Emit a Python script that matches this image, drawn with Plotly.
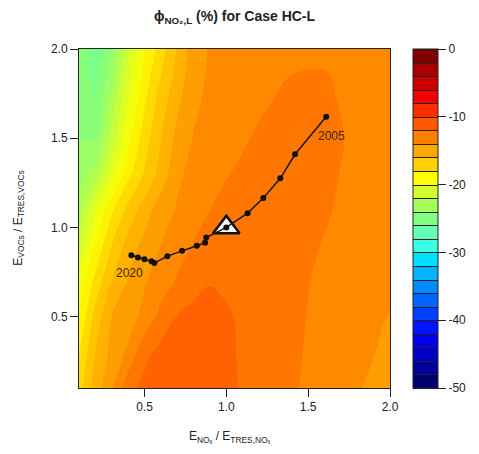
import plotly.graph_objects as go

# ---------------- data ----------------
# grid of E_NOx/E_TRES,NOx (x) and E_VOCs/E_TRES,VOCs (y)
x_grid = [0.1, 0.2, 0.3, 0.4, 0.5, 0.6, 0.7, 0.8, 0.9, 1.0, 1.2, 1.4, 1.6, 1.8, 2.0]
y_grid = [0.1, 0.3, 0.5, 0.7, 0.9, 1.1, 1.3, 1.5, 1.7, 1.85, 2.0]

# phi_NO2,L (%) values, one row per y value
phi_y010 = [-17.5, -15.5, -14.1, -12.35, -11.7, -11.5, -11.4, -11.35, -11.4, -11.8, -12.35, -12.9, -13.38, -13.86, -14.8]
phi_y030 = [-18.0, -16.0, -14.7, -13.8, -12.3, -11.7, -11.5, -11.45, -11.5, -11.85, -12.35, -12.85, -13.3, -13.75, -14.2]
phi_y050 = [-19.0, -16.6, -15.0, -14.4, -13.7, -12.7, -11.95, -11.75, -11.7, -11.9, -12.35, -12.8, -13.25, -13.65, -14.05]
phi_y070 = [-19.6, -17.7, -16.0, -14.9, -14.1, -13.5, -12.9, -12.3, -12.05, -12.15, -12.45, -12.8, -13.15, -13.45, -13.65]
phi_y090 = [-21.3, -18.9, -17.0, -15.6, -14.7, -14.0, -13.4, -12.95, -12.6, -12.45, -12.45, -12.7, -13.05, -13.35, -13.55]
phi_y110 = [-22.5, -20.2, -18.2, -16.7, -15.5, -14.5, -13.9, -13.4, -13.0, -12.75, -12.55, -12.6, -12.9, -13.3, -13.5]
phi_y130 = [-23.5, -22.6, -20.2, -18.3, -16.9, -15.6, -14.2, -13.7, -13.4, -13.05, -12.7, -12.55, -12.8, -13.25, -13.5]
phi_y150 = [-24.0, -24.2, -21.6, -19.3, -17.5, -16.0, -14.7, -13.95, -13.6, -13.4, -12.85, -12.55, -12.7, -13.2, -13.5]
phi_y170 = [-24.2, -24.9, -22.6, -20.0, -18.1, -16.5, -15.2, -14.2, -13.75, -13.6, -13.15, -12.75, -12.8, -13.3, -13.55]
phi_y185 = [-24.4, -25.3, -23.4, -20.6, -18.6, -17.0, -15.6, -14.4, -13.85, -13.75, -13.4, -12.98, -12.92, -13.4, -13.6]
phi_y200 = [-24.5, -25.5, -24.0, -21.2, -19.0, -17.5, -15.9, -14.5, -13.9, -13.8, -13.6, -13.4, -13.3, -13.5, -13.65]

# emission trajectory 2005 -> 2020
years = list(range(2005, 2021))
traj_x = [1.61, 1.42, 1.33, 1.226, 1.13, 1.0, 0.877, 0.87, 0.82, 0.73, 0.64, 0.56, 0.543, 0.50, 0.46, 0.42]
traj_y = [1.62, 1.41, 1.275, 1.165, 1.08, 1.0, 0.943, 0.914, 0.897, 0.869, 0.839, 0.80, 0.81, 0.822, 0.831, 0.844]

# reference point (TRES case)
ref_x = [1.0]
ref_y = [1.0]

# colour key: 25 bands of 2 % from -50 to 0 (bottom to top)
band_colors = [
    "#000070", "#00009A", "#0000C4", "#0000EA", "#0014FF",
    "#0040FF", "#0064FF", "#008CFF", "#00B4FF", "#00E0FF",
    "#3CFFE6", "#64FFB4", "#80FF80", "#A4FF5C", "#D4FF2C",
    "#FFFF00", "#FFD000", "#FFA800", "#FF8000", "#FF5800",
    "#FF2C00", "#F20000", "#CC0000", "#A60000", "#800000",
]
cbar_ticks = [0, -10, -20, -30, -40, -50]
z_min, z_max = -50, 0

# ---------------- figure ----------------
z = [phi_y010, phi_y030, phi_y050, phi_y070, phi_y090, phi_y110,
     phi_y130, phi_y150, phi_y170, phi_y185, phi_y200]

n = len(band_colors)
cscale = [[0.0, band_colors[0]]]
for k, c in enumerate(band_colors):
    cscale.append([(2 * k + 1) / (2 * n), c])
cscale.append([1.0, band_colors[-1]])

font_family = "Liberation Sans, Arial, sans-serif"
txt = "#222222"

fig = go.Figure()

# key trace (2 % bands, outlined) – provides the colour bar
fig.add_trace(go.Contour(
    x=x_grid, y=y_grid, z=z,
    colorscale=cscale, zmin=z_min, zmax=z_max, zauto=False,
    contours=dict(start=z_min, end=z_max, size=2, coloring="fill", showlines=True),
    line=dict(color="#222222", width=1, smoothing=1),
    hoverinfo="skip",
    colorbar=dict(
        x=(419 - 79) / 317, xanchor="left", xpad=0,
        y=0.5, yanchor="middle", ypad=0, len=1, lenmode="fraction",
        thickness=25, outlinewidth=1, outlinecolor="#222222",
        ticks="outside", ticklen=8, tickwidth=1, tickcolor="#222222",
        tickvals=cbar_ticks, ticktext=[str(v) for v in cbar_ticks],
        tickfont=dict(family=font_family, size=12, color=txt),
    ),
))

# fine filled contours shown in the plot
fig.add_trace(go.Contour(
    x=x_grid, y=y_grid, z=z,
    colorscale=cscale, zmin=z_min, zmax=z_max, zauto=False,
    contours=dict(start=z_min, end=z_max, size=1, coloring="fill", showlines=False),
    line=dict(width=0, smoothing=1.0),
    showscale=False, hoverinfo="skip",
))

# reference triangle
fig.add_trace(go.Scatter(
    x=ref_x, y=ref_y, mode="markers",
    marker=dict(symbol="triangle-up", size=23, color="white",
                line=dict(color="#111111", width=2.5)),
    showlegend=False, hoverinfo="skip",
))

# trajectory
fig.add_trace(go.Scatter(
    x=traj_x, y=traj_y, mode="lines+markers",
    line=dict(color="#1a1a1a", width=1.5),
    marker=dict(size=6, color="#111111"),
    showlegend=False,
))

# year labels
fig.add_annotation(x=traj_x[0], y=traj_y[0], text=str(years[0]), showarrow=False,
                   xshift=5, yshift=-19, font=dict(family=font_family, size=12, color="#3a2a10"))
fig.add_annotation(x=traj_x[-1], y=traj_y[-1], text=str(years[-1]), showarrow=False,
                   xshift=-2, yshift=-18, font=dict(family=font_family, size=12, color="#3a2a10"))

# axis titles
fig.add_annotation(xref="paper", yref="paper", x=0.485, y=(388 - 437) / 339,
                   text="E<sub>NOₓ</sub> / E<sub>TRES,NOₓ</sub>", showarrow=False,
                   xanchor="center", yanchor="middle",
                   font=dict(family=font_family, size=12, color=txt))
fig.add_annotation(xref="paper", yref="paper", x=(17 - 79) / 317, y=0.5,
                   text="E<sub>VOCs</sub> / E<sub>TRES,VOCs</sub>", showarrow=False,
                   textangle=-90, xanchor="center", yanchor="middle",
                   font=dict(family=font_family, size=12, color=txt))

axis_common = dict(showgrid=False, zeroline=False, showline=True, mirror=True,
                   linecolor="#222222", linewidth=1, ticks="outside", ticklen=8,
                   tickwidth=1, tickcolor="#222222", tickformat=".1f",
                   tickfont=dict(family=font_family, size=12, color=txt))

fig.update_layout(
    width=479, height=454,
    margin=dict(l=79, r=83, t=49, b=66),
    paper_bgcolor="white", plot_bgcolor="white",
    title=dict(text="<b>ϕ<sub>NO₂,L</sub> (%) for Case HC-L</b>",
               x=0.5, xref="paper", xanchor="center",
               y=1 - 16 / 454, yanchor="middle",
               font=dict(family=font_family, size=14, color=txt)),
    xaxis=dict(range=[0.1, 2.0], tickvals=[0.5, 1.0, 1.5, 2.0], **axis_common),
    yaxis=dict(range=[0.1, 2.0], tickvals=[0.5, 1.0, 1.5, 2.0], **axis_common),
    showlegend=False,
)

fig.write_html("out.html")
